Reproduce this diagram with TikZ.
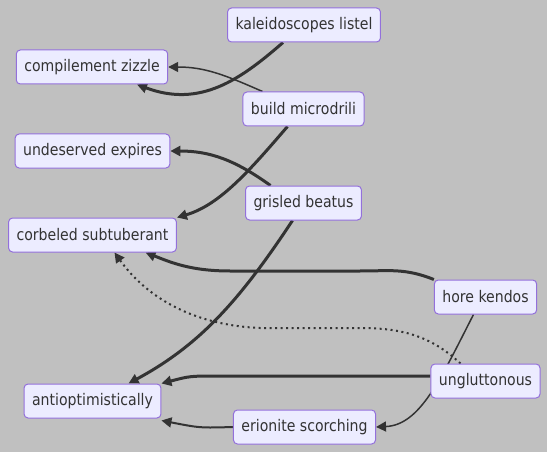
\documentclass[tikz,border=0pt]{standalone}
\usepackage{fontspec}
\setmainfont{DejaVu Sans}[FakeStretch=0.88]
\usetikzlibrary{arrows.meta}
\pgfdeclarelayer{bg}
\pgfsetlayers{bg,main}
\definecolor{canvas}{RGB}{192,192,192}
\definecolor{boxfill}{HTML}{ECECFF}
\definecolor{boxline}{HTML}{9370DB}
\definecolor{wire}{HTML}{333333}

\begin{document}
\begin{tikzpicture}[x=1pt,y=-1pt,
    box/.style={draw=boxline,fill=boxfill,line width=1pt,rounded corners=4pt,
      minimum height=34pt,inner xsep=8pt,font=\fontsize{16}{18}\selectfont,text=wire},
    link/.style={draw=wire,line width=3pt,-{Triangle[length=10pt,width=10pt]}},
    thinlink/.style={link,line width=1.5pt},
    dotlink/.style={link,line width=2pt,dash pattern=on 2pt off 3.5pt}]

      \begin{scope}[every node/.style={box}]
        \node (kal) at (304,25) {kaleidoscopes listel};
        \node (comp) at (92,67) {compilement zizzle};
        \node (bm) at (303.5,109) {build microdrili};
        \node (und) at (92.5,151) {undeserved expires};
        \node (gb) at (303.5,203) {grisled beatus};
        \node (corb) at (92.5,235) {corbeled subtuberant};
        \node (hk) at (485.5,297) {hore kendos};
        \node (ung) at (485.5,381) {ungluttonous};
        \node (anti) at (92.5,401) {antioptimistically};
        \node (er) at (304.5,427) {erionite scorching};
      \end{scope}

      \begin{pgfonlayer}{bg}
        \fill[canvas] (0,0) rectangle (547,452);

        \draw[link] ([xshift=-21pt]kal.south) .. controls (240,80) and (200,108) .. ([xshift=45pt]comp.south);
        \draw[thinlink] ([xshift=-41pt]bm.north) .. controls (225,75) and (205,67) .. (comp.east);
        \draw[link] ([xshift=-16pt]bm.south) .. controls (250,170) and (220,205) .. (corb.north east);
        \draw[link] ([xshift=-33pt]gb.north) .. controls (235,160) and (210,151) .. (und.east);
        \draw[link] ([xshift=-11pt]gb.south) .. controls (240,300) and (200,345) .. ([xshift=36pt]anti.north);
        \draw[link] (hk.north west) .. controls (405,268) and (390,271) .. (360,271) -- (230,271)
          .. controls (190,271) and (170,262) .. ([xshift=53pt]corb.south);
        \draw[dotlink] ([xshift=-25pt]ung.north) .. controls (430,335) and (400,328) .. (360,328) -- (260,328)
          .. controls (190,325) and (145,295) .. ([xshift=22pt]corb.south);
        \draw[thinlink] ([xshift=-12pt]hk.south) .. controls (440,380) and (420,425) .. (er.east);
        \draw[link] ([yshift=5pt]ung.west) -- (220,376) .. controls (190,376) .. (anti.north east);
        \draw[link,line width=2pt] (er.west) .. controls (200,428) .. ([yshift=-2pt]anti.south east);
      \end{pgfonlayer}

    \end{tikzpicture}
\end{document}
